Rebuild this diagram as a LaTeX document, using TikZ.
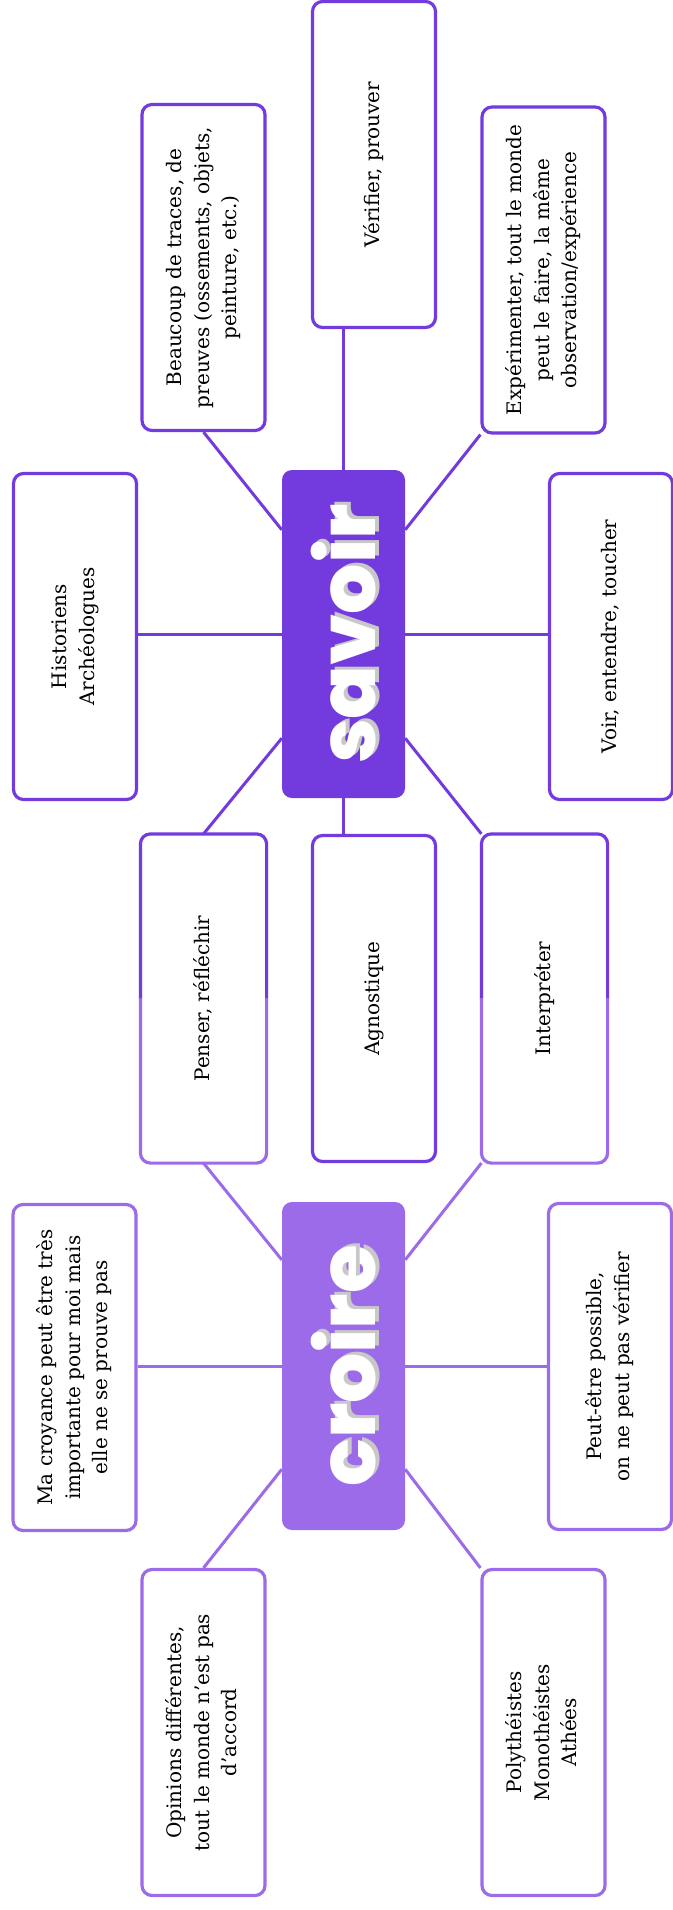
\documentclass[tikz,border=0pt]{standalone}
\usepackage{fontspec}
\usepackage{graphicx}
\usetikzlibrary{backgrounds}

\setmainfont{DejaVu Serif}
\newfontfamily\titlefont{Poppins ExtraBold}
\definecolor{savcol}{HTML}{733ADE}
\definecolor{crocol}{HTML}{9C6BEA}
\definecolor{shadcol}{HTML}{C8C8C8}
\newcommand{\vtext}[1]{\rotatebox{90}{\fontsize{20}{27.5}\selectfont\begin{tabular}{@{}c@{}}#1\end{tabular}}}

\begin{document}
\begin{tikzpicture}[x=1pt,y=-1pt,
    mbox/.style={fill=white, line width=3.2pt, rounded corners=10pt,
      minimum width=123pt, minimum height=326pt, inner sep=0pt},
    savbox/.style={mbox, draw=savcol},
    crobox/.style={mbox, draw=crocol},
    hub/.style={rounded corners=10pt, minimum width=123pt, minimum height=328pt, inner sep=0pt},
    title/.style={rotate=90, font=\titlefont\fontsize{79}{79}\selectfont},
    savline/.style={draw=savcol, line width=3pt},
    croline/.style={draw=crocol, line width=3pt}]
      \useasboundingbox (0,0) rectangle (672,1910);

      % the two hubs
      \node[hub, fill=savcol] (sav) at (343.5,634) {};
      \node[hub, fill=crocol] (cro) at (343.5,1366) {};
      \node[title, text=shadcol] (savshadow) at ([shift={(4pt,3pt)}]sav.center) {savoir};
      \node[title, text=white] (savtitle) at (sav.center) {savoir};
      \node[title, text=shadcol] (croshadow) at ([shift={(4pt,3pt)}]cro.center) {croire};
      \node[title, text=white] (crotitle) at (cro.center) {croire};

      % savoir side
      \node[savbox] (hist) at (75,636.5) {\vtext{Historiens\\Archéologues}};
      \node[savbox] (trace) at (203.5,267.5) {\vtext{Beaucoup de traces, de\\preuves (ossements, objets,\\peinture, etc.)}};
      \node[savbox] (verif) at (374,164.5) {\vtext{Vérifier, prouver}};
      \node[savbox] (exper) at (543.5,270) {\vtext{Expérimenter, tout le monde\\peut le faire, la même\\observation/expérience}};
      \node[savbox] (voir) at (611,636.5) {\vtext{Voir, entendre, toucher}};
      \node[savbox] (agnos) at (374,998.5) {\vtext{Agnostique}};

      % shared boxes, border half dark half light
      \node[mbox] (penser) at (203.5,998.5) {\vtext{Penser, réfléchir}};
      \node[mbox] (interp) at (544.5,998.5) {\vtext{Interpréter}};
      \foreach \b in {penser,interp} {
        \begin{scope}
          \clip ([shift={(-6pt,6pt)}]\b.north west) rectangle ([xshift=6pt]\b.east);
          \draw[savcol, line width=3.2pt, rounded corners=10pt] (\b.north west) rectangle (\b.south east);
        \end{scope}
        \begin{scope}
          \clip ([xshift=-6pt]\b.west) rectangle ([shift={(6pt,-6pt)}]\b.south east);
          \draw[crocol, line width=3.2pt, rounded corners=10pt] (\b.north west) rectangle (\b.south east);
        \end{scope}
      }

      % croire side
      \node[crobox] (croy) at (74.5,1367.5) {\vtext{Ma croyance peut être très\\importante pour moi mais\\elle ne se prouve pas}};
      \node[crobox] (peut) at (610,1366.5) {\vtext{Peut-être possible,\\on ne peut pas vérifier}};
      \node[crobox] (opin) at (203.5,1732.5) {\vtext{Opinions différentes,\\tout le monde n’est pas\\d’accord}};
      \node[crobox] (poly) at (543.5,1732.5) {\vtext{Polythéistes\\Monothéistes\\Athées}};

      \begin{scope}[on background layer]
        \draw[savline] (sav.west) -- (sav.west -| hist.east);
        \draw[savline] (sav.east) -- (sav.east -| voir.west);
        \draw[savline] (sav.north) -- (sav.north |- verif.south);
        \draw[savline] ([yshift=-60pt]sav.north west) -- (trace.south);
        \draw[savline] ([yshift=-60pt]sav.north east) -- (exper.south west);
        \draw[savline] ([yshift=60pt]sav.south west) -- (penser.north);
        \draw[savline] (sav.south) -- (sav.south |- agnos.north);
        \draw[savline] ([yshift=60pt]sav.south east) -- (interp.north west);

        \draw[croline] ([yshift=-58pt]cro.north west) -- (penser.south);
        \draw[croline] ([yshift=-58pt]cro.north east) -- (interp.south west);
        \draw[croline] (cro.west) -- (cro.west -| croy.east);
        \draw[croline] (cro.east) -- (cro.east -| peut.west);
        \draw[croline] ([yshift=61pt]cro.south west) -- (opin.north);
        \draw[croline] ([yshift=61pt]cro.south east) -- (poly.north west);
      \end{scope}
    \end{tikzpicture}
\end{document}
